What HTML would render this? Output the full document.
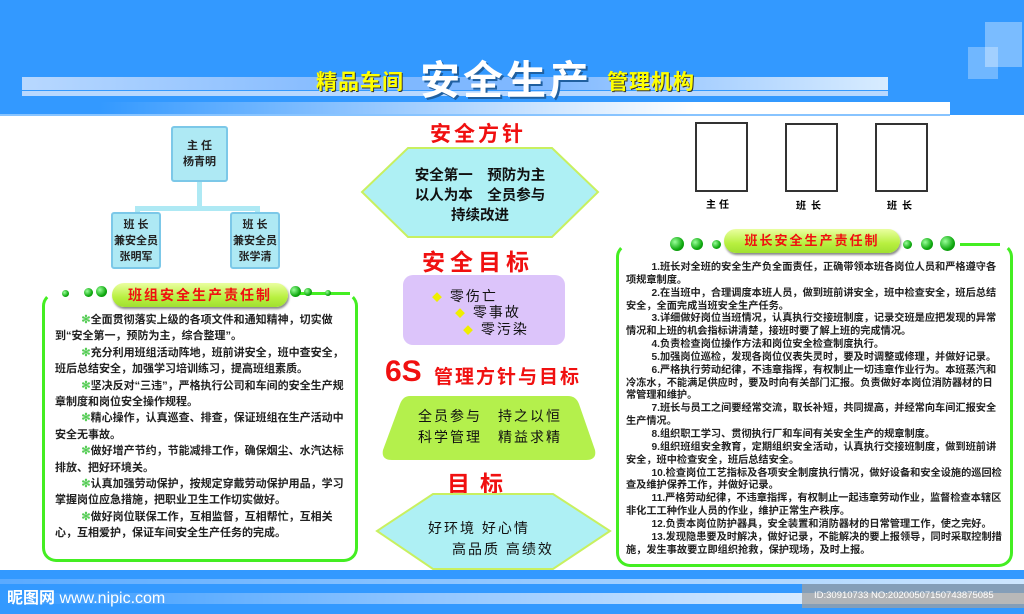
<!DOCTYPE html>
<html><head><meta charset="utf-8"><style>
*{margin:0;padding:0;box-sizing:border-box}
body{width:1024px;height:614px;overflow:hidden;background:#fff;position:relative;font-family:"Liberation Sans","Noto Sans CJK SC",sans-serif}
.a{position:absolute}
.hdr{left:0;top:0;width:1024px;height:115px;background:#3399ff}
.box{border:2px solid #7cc8e8;background:#aee9f4;border-radius:3px;font-size:11px;font-weight:bold;text-align:center;color:#222;display:flex;flex-direction:column;justify-content:center;line-height:16px}
.red{color:#f01010;font-weight:bold;text-align:center}
.panel{border:3px solid #44ee22;border-radius:14px}
.pill{background:linear-gradient(#eaffa0,#b8f040 60%,#a0e030);border-radius:14px;color:#f01010;font-weight:bold;text-align:center;box-shadow:1px 2px 2px #888;letter-spacing:2px}
.dot{border-radius:50%;background:radial-gradient(circle at 35% 35%,#9f9,#1a1 60%,#070)}
.lt{font-size:11px;font-weight:bold;line-height:16.4px;color:#222}
.lt p{text-indent:2.4em}
.lt b{color:#55cc55}
.rt{font-size:10.2px;font-weight:bold;line-height:12.85px;color:#222}
.rt p{text-indent:2.5em}
.ph{border:2px solid #333;background:#fff}
</style></head><body>
<div class="a hdr"></div>
<div class="a" style="left:22px;top:77px;width:866px;height:13px;background:linear-gradient(90deg,#b8d8ff,#7fb8ff 40%,#7fb8ff 60%,#d8ecff)"></div>
<div class="a" style="left:22px;top:91px;width:866px;height:5px;background:#b8d8ff"></div>
<div class="a" style="left:100px;top:102px;width:850px;height:12px;background:linear-gradient(90deg,#3399ff,#8ec4ff 30%,#fff 70%,#fff)"></div>
<div class="a" style="left:985px;top:22px;width:37px;height:45px;background:rgba(255,255,255,.35)"></div>
<div class="a" style="left:968px;top:47px;width:30px;height:32px;background:rgba(255,255,255,.3)"></div>
<div class="a" style="left:0;top:114px;width:950px;height:2px;background:#88c4ff"></div>
<div class="a" style="left:316px;top:66px;font-size:21px;font-weight:bold;color:#ffff00;letter-spacing:1px;text-shadow:1px 1px 0 #333">精品车间</div>
<div class="a" style="left:420px;top:48px;font-size:40px;font-weight:bold;color:#fff;letter-spacing:3px;text-shadow:2px 2px 0 #2060a0">安全生产</div>
<div class="a" style="left:607px;top:66px;font-size:21px;font-weight:bold;color:#ffff00;letter-spacing:1px;text-shadow:1px 1px 0 #333">管理机构</div>

<div class="a box" style="left:171px;top:126px;width:57px;height:56px">主 任<br>杨青明</div>
<div class="a" style="left:197px;top:182px;width:5px;height:27px;background:#aee9f4"></div>
<div class="a" style="left:135px;top:206px;width:125px;height:5px;background:#aee9f4"></div>
<div class="a" style="left:135px;top:206px;width:5px;height:8px;background:#aee9f4"></div>
<div class="a" style="left:255px;top:206px;width:5px;height:8px;background:#aee9f4"></div>
<div class="a box" style="left:111px;top:212px;width:50px;height:57px">班 长<br>兼安全员<br>张明军</div>
<div class="a box" style="left:230px;top:212px;width:50px;height:57px">班 长<br>兼安全员<br>张学清</div>

<div class="a panel" style="left:42px;top:292px;width:316px;height:270px;border-top-color:transparent"></div>
<div class="a" style="left:300px;top:292px;width:50px;height:3px;background:#44ee22"></div>
<div class="a dot" style="left:62px;top:290px;width:7px;height:7px"></div>
<div class="a dot" style="left:84px;top:288px;width:9px;height:9px"></div>
<div class="a dot" style="left:96px;top:286px;width:11px;height:11px"></div>
<div class="a pill" style="left:112px;top:283px;width:176px;height:24px;font-size:14px;line-height:24px">班组安全生产责任制</div>
<div class="a dot" style="left:290px;top:286px;width:11px;height:11px"></div>
<div class="a dot" style="left:304px;top:288px;width:8px;height:8px"></div>
<div class="a dot" style="left:325px;top:290px;width:6px;height:6px"></div>
<div class="a lt" style="left:55px;top:312px;width:296px">
<p><b>✻</b>全面贯彻落实上级的各项文件和通知精神，切实做到“安全第一，预防为主，综合整理”。</p>
<p><b>✻</b>充分利用班组活动阵地，班前讲安全，班中查安全，班后总结安全，加强学习培训练习，提高班组素质。</p>
<p><b>✻</b>坚决反对“三违”，严格执行公司和车间的安全生产规章制度和岗位安全操作规程。</p>
<p><b>✻</b>精心操作，认真巡查、排查，保证班组在生产活动中安全无事故。</p>
<p><b>✻</b>做好增产节约，节能减排工作，确保烟尘、水汽达标排放、把好环境关。</p>
<p><b>✻</b>认真加强劳动保护，按规定穿戴劳动保护用品，学习掌握岗位应急措施，把职业卫生工作切实做好。</p>
<p><b>✻</b>做好岗位联保工作，互相监督，互相帮忙，互相关心，互相爱护，保证车间安全生产任务的完成。</p>
</div>

<div class="a red" style="left:398px;top:118px;width:160px;font-size:21px;letter-spacing:3px">安全方针</div>
<svg class="a" style="left:360px;top:146px" width="240" height="93"><polygon points="48,2 192,2 238,46 192,91 48,91 2,46" fill="#aef0f4" stroke="#c8f060" stroke-width="2"/></svg>
<div class="a" style="left:380px;top:166px;width:200px;text-align:center;font-size:14.5px;font-weight:bold;line-height:20px;color:#111">安全第一　预防为主<br>以人为本　全员参与<br>持续改进</div>
<div class="a red" style="left:398px;top:243px;width:160px;font-size:23px;letter-spacing:5px">安全目标</div>
<div class="a" style="left:403px;top:275px;width:162px;height:70px;background:#dcc4fa;border-radius:10px"></div>
<div class="a" style="left:432px;top:286px;font-size:14px;color:#111;line-height:20px;letter-spacing:2px"><span style="color:#ee0;font-size:10px">◆</span> 零伤亡</div>
<div class="a" style="left:455px;top:302px;font-size:14px;color:#111;line-height:20px;letter-spacing:2px"><span style="color:#ee0;font-size:10px">◆</span> 零事故</div>
<div class="a" style="left:463px;top:319px;font-size:14px;color:#111;line-height:20px;letter-spacing:2px"><span style="color:#ee0;font-size:10px">◆</span> 零污染</div>
<div class="a red" style="left:385px;top:355px;font-size:30px;line-height:34px;font-family:'Liberation Sans',sans-serif">6S</div>
<div class="a red" style="left:434px;top:362px;font-size:19px;letter-spacing:2px">管理方针与目标</div>
<svg class="a" style="left:380px;top:395px" width="218" height="66"><path d="M30,1 H188 Q196,1 199,9 L215,55 Q217,65 206,65 H12 Q1,65 3,55 L20,9 Q23,1 30,1Z" fill="#b4f04c"/></svg>
<div class="a" style="left:400px;top:406px;width:180px;text-align:center;font-size:14px;line-height:21px;color:#111;letter-spacing:2px">全员参与　持之以恒<br>科学管理　精益求精</div>
<div class="a red" style="left:440px;top:465px;width:80px;font-size:23px;letter-spacing:10px">目标</div>
<svg class="a" style="left:375px;top:493px" width="237" height="77"><polygon points="58,1 178,1 235,38 178,76 58,76 2,38" fill="#aef0f4" stroke="#c8f060" stroke-width="2"/></svg>
<div class="a" style="left:428px;top:518px;font-size:14px;color:#111;letter-spacing:2px">好环境 好心情</div>
<div class="a" style="left:452px;top:539px;font-size:14px;color:#111;letter-spacing:2px">高品质 高绩效</div>

<div class="a ph" style="left:695px;top:122px;width:53px;height:70px"></div>
<div class="a ph" style="left:785px;top:123px;width:53px;height:69px"></div>
<div class="a ph" style="left:875px;top:123px;width:53px;height:69px"></div>
<div class="a" style="left:706px;top:196px;font-size:10px;font-weight:bold;letter-spacing:3px">主任</div>
<div class="a" style="left:796px;top:197px;font-size:10px;font-weight:bold;letter-spacing:5px">班长</div>
<div class="a" style="left:887px;top:197px;font-size:10px;font-weight:bold;letter-spacing:5px">班长</div>

<div class="a panel" style="left:616px;top:243px;width:397px;height:324px;border-top-color:transparent"></div>
<div class="a" style="left:960px;top:243px;width:40px;height:3px;background:#44ee22"></div>
<div class="a dot" style="left:670px;top:237px;width:14px;height:14px"></div>
<div class="a dot" style="left:691px;top:238px;width:12px;height:12px"></div>
<div class="a dot" style="left:712px;top:240px;width:9px;height:9px"></div>
<div class="a pill" style="left:724px;top:229px;width:176px;height:24px;font-size:13px;line-height:24px">班长安全生产责任制</div>
<div class="a dot" style="left:903px;top:240px;width:9px;height:9px"></div>
<div class="a dot" style="left:921px;top:238px;width:12px;height:12px"></div>
<div class="a dot" style="left:940px;top:236px;width:15px;height:15px"></div>
<div class="a rt" style="left:626px;top:262px;width:376px">
<p>1.班长对全班的安全生产负全面责任，正确带领本班各岗位人员和严格遵守各项规章制度。</p>
<p>2.在当班中，合理调度本班人员，做到班前讲安全，班中检查安全，班后总结安全，全面完成当班安全生产任务。</p>
<p>3.详细做好岗位当班情况，认真执行交接班制度，记录交班是应把发现的异常情况和上班的机会指标讲清楚，接班时要了解上班的完成情况。</p>
<p>4.负责检查岗位操作方法和岗位安全检查制度执行。</p>
<p>5.加强岗位巡检，发现各岗位仪表失灵时，要及时调整或修理，并做好记录。</p>
<p>6.严格执行劳动纪律，不违章指挥，有权制止一切违章作业行为。本班蒸汽和冷冻水，不能满足供应时，要及时向有关部门汇报。负责做好本岗位消防器材的日常管理和维护。</p>
<p>7.班长与员工之间要经常交流，取长补短，共同提高，并经常向车间汇报安全生产情况。</p>
<p>8.组织职工学习、贯彻执行厂和车间有关安全生产的规章制度。</p>
<p>9.组织班组安全教育，定期组织安全活动，认真执行交接班制度，做到班前讲安全，班中检查安全，班后总结安全。</p>
<p>10.检查岗位工艺指标及各项安全制度执行情况，做好设备和安全设施的巡回检查及维护保养工作，并做好记录。</p>
<p>11.严格劳动纪律，不违章指挥，有权制止一起违章劳动作业，监督检查本辖区非化工工种作业人员的作业，维护正常生产秩序。</p>
<p>12.负责本岗位防护器具，安全装置和消防器材的日常管理工作，使之完好。</p>
<p>13.发现隐患要及时解决，做好记录，不能解决的要上报领导，同时采取控制措施，发生事故要立即组织抢救，保护现场，及时上报。</p>
</div>

<div class="a" style="left:0;top:570px;width:1024px;height:44px;background:#3399ff"></div>
<div class="a" style="left:0;top:579px;width:1024px;height:5px;background:linear-gradient(90deg,#5aaaff,#cde6ff)"></div>
<div class="a" style="left:0;top:593px;width:1024px;height:11px;background:linear-gradient(90deg,#3399ff,#8ec4ff 40%,#fff)"></div>
<div class="a" style="left:7px;top:584px;font-size:16px;color:#fff;font-weight:bold">昵图网 <span style="font-weight:normal">www.nipic.com</span></div>
<div class="a" style="left:802px;top:584px;width:232px;height:24px;background:rgba(160,160,160,.75);color:#fff;font-size:9.5px;line-height:24px;padding-left:12px">ID:30910733 NO:20200507150743875085</div>
</body></html>
